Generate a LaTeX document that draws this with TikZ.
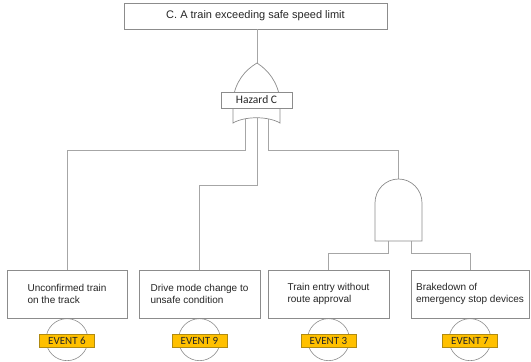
\documentclass[tikz,border=0pt]{standalone}
\usepackage{fontspec}
\setmainfont{Liberation Sans}
\newfontfamily\carlito{Carlito}
\definecolor{linegray}{HTML}{A6A6A6}
\definecolor{boxgray}{HTML}{8C8C8C}
\definecolor{evfill}{HTML}{FFC000}
\definecolor{evborder}{HTML}{B08A10}
\tikzset{
  conn/.style={draw=linegray, line width=0.8pt},
  gate/.style={draw=boxgray, line width=0.7pt, fill=white},
  evbox/.style={draw=boxgray, fill=white, line width=0.7pt, minimum height=48pt, inner sep=0pt, align=left, text=black!85, font=\fontsize{10}{11.5}\selectfont},
  evtag/.style={draw=evborder, fill=evfill, line width=0.6pt, minimum width=55pt, minimum height=13pt, inner sep=0pt, text=black!85, font=\carlito\fontsize{11}{12}\selectfont},
  evcirc/.style={draw=boxgray, line width=0.6pt, circle, minimum size=42pt, inner sep=0pt},
}
\begin{document}
\begin{tikzpicture}[x=1pt,y=-1pt]
\useasboundingbox (0,0) rectangle (531,362);
% top event
\node[draw=boxgray, line width=0.7pt, minimum width=263pt, minimum height=26pt, inner sep=0pt, text=black!85, font=\fontsize{11}{13}\selectfont] (top) at (255.5,16) {C. A train exceeding safe speed limit};
% coordinates
\coordinate (orTip) at (257,63);
\coordinate (orL) at (245,114);
\coordinate (orM) at (257,114);
\coordinate (orR) at (268,114);
\coordinate (andTop) at (398.5,179);
\coordinate (andL) at (388,241);
\coordinate (andR) at (411,241);
\coordinate (hA) at (0,150);
\coordinate (hB) at (0,185);
\coordinate (hC) at (0,253);
% bottom events
\node[evbox, minimum width=120pt] (e6) at (67,294) {Unconfirmed train\\on the track};
\node[evbox, minimum width=121pt] (e9) at (199.5,294) {Drive mode change to\\unsafe condition};
\node[evbox, minimum width=121pt] (e3) at (328.5,294) {Train entry without\\route approval};
\node[evbox, minimum width=118pt] (e7) at (470,294) {Brakedown of\\emergency stop devices};
% connectors
\draw[conn] (top.south -| orTip) -- (orTip);
\draw[conn] (orL) |- (e6.north |- hA) -- (e6.north);
\draw[conn] (orM) |- (e9.north |- hB) -- (e9.north);
\draw[conn] (orR) |- (andTop |- hA) -- (andTop);
\draw[conn] (andL) |- (e3.north |- hC) -- (e3.north);
\draw[conn] (andR) |- (e7.north |- hC) -- (e7.north);
% OR gate
\draw[gate] (257,63) .. controls (245,70) and (235,82) .. (233,100) -- (233,123)
  .. controls (245,116) and (268,116) .. (280,123) -- (280,100)
  .. controls (278,82) and (268,70) .. (257,63) -- cycle;
\node[draw=boxgray, fill=white, line width=0.7pt, minimum width=71pt, minimum height=16pt, inner sep=0pt, text=black!85, font=\carlito\fontsize{11.5}{13}\selectfont] (haz) at (256.5,100) {Hazard C};
% AND gate
\draw[gate] (375,241) -- (375,203) arc[start angle=180, end angle=0, x radius=23.5pt, y radius=24pt] -- (422,241) -- cycle;
% event circles and tags
\foreach \n/\t in {e6/6, e9/9, e3/3, e7/7}{
  \node[evcirc, anchor=north] (c\n) at (\n.south) {};
  \node[evtag] (t\n) at ([yshift=-1pt]c\n.center) {EVENT \t};
}
\end{tikzpicture}
\end{document}
